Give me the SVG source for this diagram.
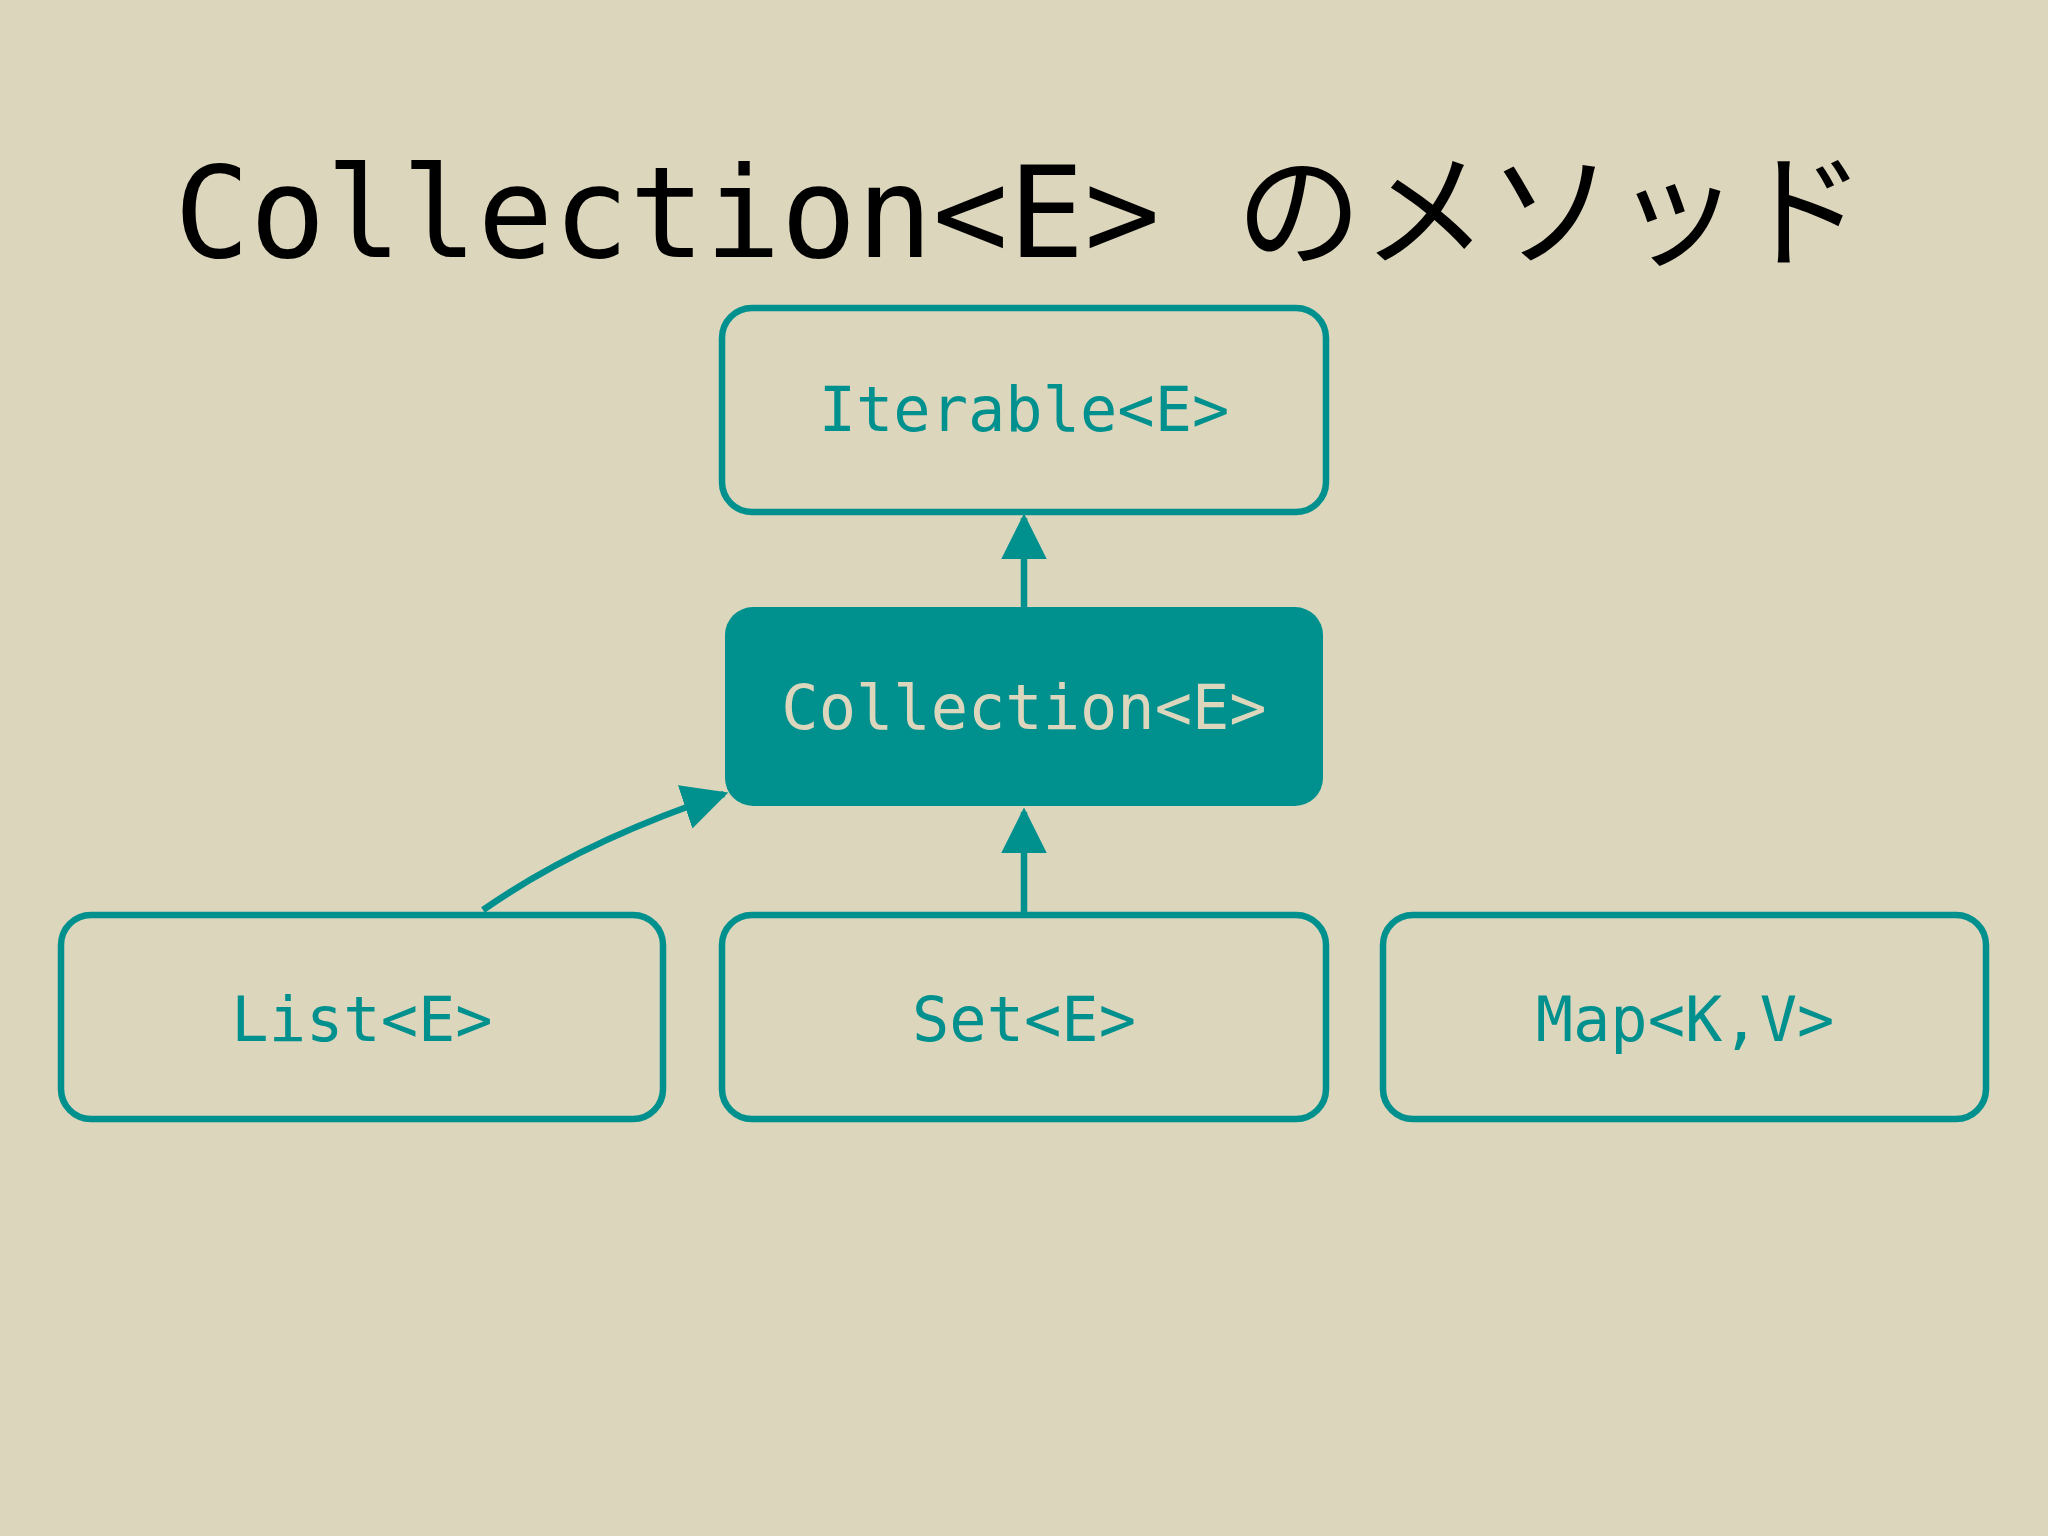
<svg xmlns="http://www.w3.org/2000/svg" width="2048" height="1536" viewBox="0 0 2048 1536">
<defs>
<style>
.box{fill:none;stroke:#00918f;stroke-width:6.5}
.t{font-family:"DejaVu Sans Mono","Liberation Mono",monospace;font-size:62px;text-anchor:middle;fill:#00918f}
.c{stroke:#00918f;stroke-width:6.5;fill:none}
</style>
<marker id="ah" viewBox="0 0 10 10" refX="9" refY="5" markerWidth="7" markerHeight="7" markerUnits="strokeWidth" orient="auto"><path d="M0,0 L10,5 L0,10 z" fill="#00918f"/></marker>
</defs>
<rect width="2048" height="1536" fill="#dcd6bc"/>
<text x="174" y="257" font-family="DejaVu Sans Mono,'Noto Sans CJK JP',monospace" font-size="126" fill="#000">Collection&lt;E&gt; のメソッド</text>
<g id="iterable"><rect class="box" x="722" y="308" width="604" height="204" rx="30"/><text class="t" x="1024" y="431">Iterable&lt;E&gt;</text></g>
<g id="collection"><rect x="725" y="607" width="598" height="199" rx="28" fill="#00918f"/><text class="t" x="1024" y="729" style="fill:#dcd6bc">Collection&lt;E&gt;</text></g>
<g id="list"><rect class="box" x="61" y="915" width="602" height="204" rx="30"/><text class="t" x="362" y="1041">List&lt;E&gt;</text></g>
<g id="set"><rect class="box" x="722" y="915" width="604" height="204" rx="30"/><text class="t" x="1024" y="1041">Set&lt;E&gt;</text></g>
<g id="map"><rect class="box" x="1383" y="915" width="603" height="204" rx="30"/><text class="t" x="1685" y="1041">Map&lt;K,V&gt;</text></g>
<g id="connectors">
<path class="c" d="M1024,607 L1024,518" marker-end="url(#ah)"/>
<path class="c" d="M1024,915 L1024,812" marker-end="url(#ah)"/>
<path class="c" d="M483,910 Q580,842 724,794" marker-end="url(#ah)"/>
</g>
</svg>
